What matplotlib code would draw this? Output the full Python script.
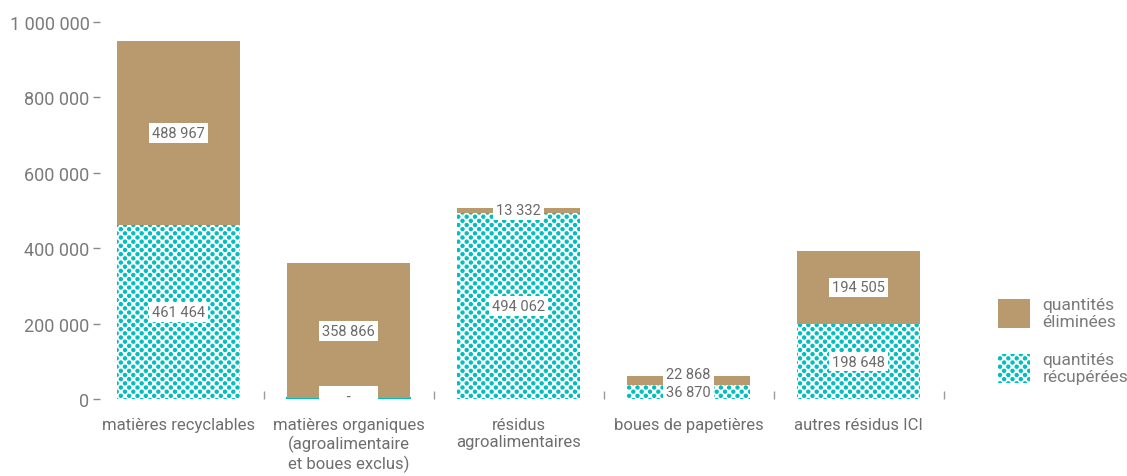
import numpy as np
import matplotlib
matplotlib.use("Agg")
import matplotlib.pyplot as plt
import matplotlib.hatch as mhatch
from matplotlib.path import Path
from matplotlib.patches import Patch

# ---- data -------------------------------------------------------------
categories = [
    "matières recyclables",
    "matières organiques\n(agroalimentaire\net boues exclus)",
    "résidus\nagroalimentaires",
    "boues de papetières",
    "autres résidus ICI",
]
recuperees = [461464, 2000, 494062, 36870, 198648]
recuperees_labels = ["461 464", "-", "494 062", "36 870", "198 648"]
eliminees = [488967, 358866, 13332, 22868, 194505]
yticks = [0, 200000, 400000, 600000, 800000, 1000000]
legend_labels = ["quantités\néliminées", "quantités\nrécupérées"]

# ---- style ------------------------------------------------------------
BROWN = "#B89A6E"
TEAL = "#00BEBE"
GREY = "#7a7a7a"
plt.rcParams["font.family"] = ["Roboto", "DejaVu Sans"]
plt.rcParams["hatch.linewidth"] = 0.8


class DotLattice(mhatch.HatchPatternBase):
    """Filled dots on a staggered (diagonal) lattice, selected with '.'."""

    def __init__(self, hatch, density):
        self.cols = hatch.count(".") * density
        circle = Path.unit_circle()
        self.circle_v = circle.vertices
        self.circle_c = circle.codes
        centres = []
        if self.cols:
            step = 1.0 / self.cols
            for r in range(2 * self.cols + 1):
                y = r * step / 2
                if r % 2 == 0:
                    xs = np.linspace(0, 1, self.cols + 1)
                else:
                    xs = np.arange(self.cols) * step + step / 2
                centres.extend((x, y) for x in xs)
        self.centres = np.array(centres, dtype=float).reshape(-1, 2)
        self.num_vertices = len(self.centres) * len(self.circle_v)

    def set_vertices_and_codes(self, vertices, codes):
        radius = 0.195 / self.cols
        np.concatenate([self.circle_v * radius + c for c in self.centres],
                       out=vertices)
        np.concatenate([self.circle_c] * len(self.centres), out=codes)


_idx = mhatch._hatch_types.index(mhatch.SmallFilledCircles)
mhatch._hatch_types[_idx] = DotLattice

DOTS = ".."


def fmt(v):
    return f"{v:,}".replace(",", " ")


fig = plt.figure(figsize=(11.27, 4.77), dpi=100)
ax = fig.add_axes([100 / 1127, 77 / 477, 860 / 1127, 377 / 477])

x = np.arange(len(categories))
width = 0.724

# a hairline outline keeps very small segments visible
edge_w = [1.5 if v < 10000 else 0 for v in recuperees]
ax.bar(x, recuperees, width, color="white", edgecolor=TEAL, hatch=DOTS,
       linewidth=edge_w, zorder=2)
ax.bar(x, eliminees, width, bottom=recuperees, color=BROWN,
       linewidth=0, zorder=2)

label_kw = dict(ha="center", va="center", fontsize=10.5, color="#6a6a6a",
                zorder=5,
                bbox=dict(boxstyle="square,pad=0.2", fc="white", ec="none"))

for xi, r, rl, e in zip(x, recuperees, recuperees_labels, eliminees):
    yc_r = r / 2
    yc_e = r + e / 2
    shift_r = 0
    shift_e = 0
    if e < 60000 and r < 60000:
        shift_e = 5
    if rl == "-":
        # empty value: a blank placard sitting on the baseline
        rl = "\u2007\u2007\u2007-\u2007\u2007\u2007"
        yc_r = 0
        shift_r = 2
    ax.annotate(rl, (xi, yc_r), xytext=(0, shift_r),
                textcoords="offset points", **label_kw)
    ax.annotate(fmt(e), (xi, yc_e), xytext=(0, shift_e),
                textcoords="offset points", **label_kw)

ax.set_xlim(-0.4618, 4.597)
ax.set_ylim(0, 1000000)

for s in ax.spines.values():
    s.set_visible(False)

ax.set_yticks(yticks)
ax.set_yticklabels([fmt(v) for v in yticks])
ax.tick_params(axis="y", length=5, width=1, color="#8a8a8a", pad=2.5,
               labelsize=13, labelcolor=GREY)

ax.set_xticks(x)
ax.set_xticklabels(categories, fontsize=12, color="#6e6e6e", linespacing=1.2,
                   va="top")
ax.tick_params(axis="x", length=0, pad=13)
ax.set_xticks(x + 0.5, minor=True)
ax.tick_params(axis="x", which="minor", direction="in", length=6, width=1,
               color="#9a9a9a")

handles = [
    Patch(facecolor=BROWN, edgecolor="none", linewidth=0),
    Patch(facecolor="white", edgecolor=TEAL, hatch=DOTS, linewidth=0),
]
fig.legend(handles, legend_labels, loc="upper left",
           bbox_to_anchor=(998 / 1127, 1 - 298 / 477), frameon=False,
           borderpad=0, borderaxespad=0, handlelength=1.85, handleheight=2.2,
           handletextpad=0.7, labelspacing=1.3, fontsize=12.5,
           labelcolor=GREY)

fig.savefig("out.png", dpi=100, facecolor="white")
